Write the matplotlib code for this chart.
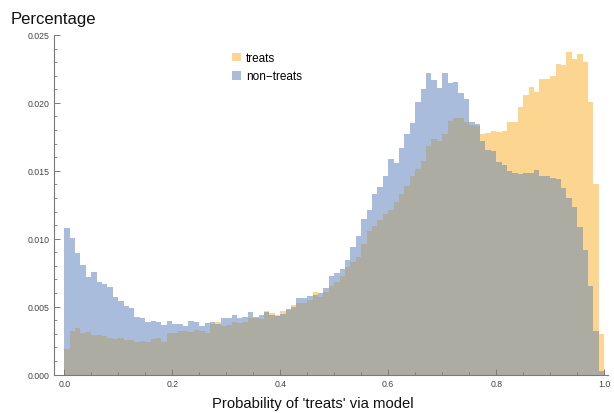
import numpy as np
import matplotlib
matplotlib.use("Agg")
import matplotlib.pyplot as plt
from matplotlib.patches import Patch
from matplotlib.ticker import MultipleLocator, FormatStrFormatter

# Histogram bins (probability 0..1, width 0.01) and fractions per bin
bin_edges = np.linspace(0.0, 1.0, 101)

treats = np.array([
    1.88, 3.18, 3.42, 3.08, 3.15, 2.89, 2.93, 2.81, 2.69, 2.61,
    2.66, 2.52, 2.52, 2.42, 2.49, 2.42, 2.64, 2.71, 2.42, 3.08,
    3.06, 3.23, 3.23, 3.15, 3.30, 3.20, 3.08, 3.69, 3.84, 3.60,
    3.67, 3.84, 3.82, 3.89, 4.16, 4.18, 4.11, 4.70, 4.50, 4.41,
    4.68, 4.77, 5.12, 5.24, 5.25, 5.50, 6.05, 5.70, 6.05, 6.50,
    6.80, 7.27, 7.89, 8.31, 8.63, 9.61, 10.60, 10.90, 11.40, 11.80,
    12.10, 12.70, 13.30, 13.90, 14.60, 15.10, 15.74, 16.85, 17.34, 17.17,
    17.71, 18.69, 18.91, 18.86, 18.57, 18.40, 18.28, 17.71, 17.78, 17.95,
    17.88, 17.93, 18.57, 18.57, 19.67, 20.58, 21.14, 20.82, 21.76, 21.76,
    22.00, 22.86, 22.82, 23.77, 23.23, 23.60, 23.04, 20.04, 14.03, 2.98,
]) * 1e-3

non_treats = np.array([
    10.77, 10.03, 8.95, 8.06, 7.16, 7.52, 6.79, 6.64, 6.47, 5.71,
    5.44, 5.02, 4.90, 4.26, 4.14, 3.89, 3.94, 3.84, 3.65, 3.94,
    3.69, 3.74, 3.60, 3.94, 3.84, 3.60, 3.77, 3.89, 3.69, 4.14,
    4.17, 4.36, 4.14, 4.21, 4.58, 4.22, 4.38, 4.60, 4.40, 4.33,
    4.45, 4.80, 4.95, 5.61, 5.60, 5.75, 5.85, 6.00, 6.35, 7.27,
    7.47, 7.77, 8.45, 9.41, 10.18, 11.46, 12.14, 13.30, 13.80, 14.64,
    15.90, 15.60, 16.70, 17.70, 18.50, 20.10, 21.00, 22.20, 21.70, 21.10,
    22.20, 21.47, 21.56, 20.73, 20.29, 18.60, 18.42, 17.22, 16.51, 16.46,
    15.62, 15.45, 15.01, 14.84, 14.77, 14.84, 14.84, 15.06, 14.64, 14.59,
    14.49, 14.40, 13.73, 13.00, 12.36, 10.84, 9.19, 6.54, 3.18, 0.28,
]) * 1e-3

series_labels = ["treats", "non\u2212treats"]
x_ticks = [0.0, 0.2, 0.4, 0.6, 0.8, 1.0]
y_ticks = [0.000, 0.005, 0.010, 0.015, 0.020, 0.025]

col_treats = "#fcd590"
col_non = "#a9bcdb"
col_both = "#adaca2"

plt.rcParams["font.family"] = ["Liberation Sans", "DejaVu Sans"]

fig = plt.figure(figsize=(6.14, 4.14), dpi=100)
W, H = 614, 414
left, right, top, bottom = 54, 608, 36, 375.5
ax = fig.add_axes([left / W, (H - bottom) / H, (right - left) / W, (bottom - top) / H])

ax.stairs(treats, bin_edges, fill=True, color=col_treats, lw=0)
ax.stairs(non_treats, bin_edges, fill=True, color=col_non, lw=0)
ax.stairs(np.minimum(treats, non_treats), bin_edges, fill=True, color=col_both, lw=0)

ax.set_xlim(-0.019, 1.007)
ax.set_ylim(0, 0.025)

for s in ["top", "right"]:
    ax.spines[s].set_visible(False)
for s in ["left", "bottom"]:
    ax.spines[s].set_color("#7a7a7a")
    ax.spines[s].set_linewidth(0.8)

ax.set_xticks(x_ticks)
ax.set_yticks(y_ticks)
ax.xaxis.set_major_formatter(FormatStrFormatter("%.1f"))
ax.yaxis.set_major_formatter(FormatStrFormatter("%.3f"))
ax.xaxis.set_minor_locator(MultipleLocator(0.05))
ax.yaxis.set_minor_locator(MultipleLocator(0.001))
ax.tick_params(which="major", direction="in", length=4, width=0.7, color="#7a7a7a",
               labelsize=6.3, labelcolor="#444444", pad=3)
ax.tick_params(which="minor", direction="in", length=2.2, width=0.6, color="#7a7a7a")

fig.text(11 / W, (H - 24) / H, "Percentage", fontsize=12, color="#111111",
         ha="left", va="baseline")
fig.text(313 / W, (H - 408) / H, "Probability of 'treats' via model", fontsize=10.7,
         color="#111111", ha="center", va="baseline")

handles = [Patch(facecolor=col_treats, edgecolor="none"),
           Patch(facecolor=col_non, edgecolor="none")]
fig.legend(handles, series_labels, loc="upper left",
           bbox_to_anchor=(232 / W, (H - 53) / H), frameon=False,
           fontsize=8.5, handlelength=0.75, handleheight=0.75,
           handletextpad=0.45, labelspacing=0.55, borderpad=0, borderaxespad=0)

fig.savefig("out.png", dpi=100)
